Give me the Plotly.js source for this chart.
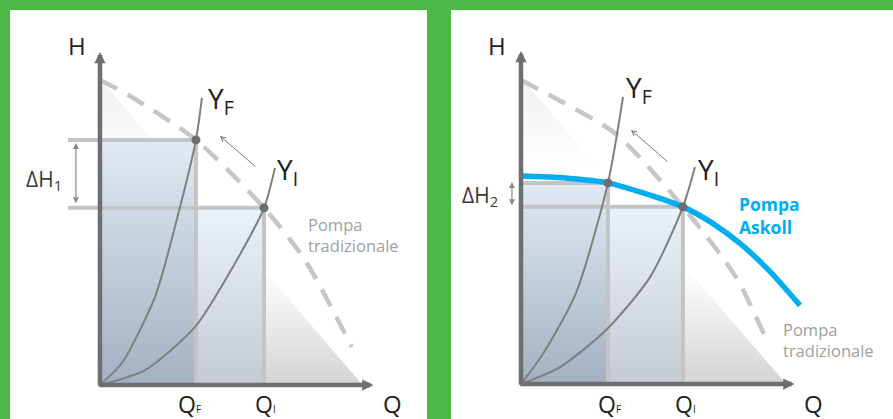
<!DOCTYPE html>
<html>
<head>
<meta charset="utf-8">
<script src="https://cdn.plot.ly/plotly-3.0.1.min.js"></script>
<style>
  html, body { margin: 0; padding: 0; background: #4cb848; }
  #chart { width: 893px; height: 419px; }
</style>
</head>
<body>
<div id="chart"></div>
<script>
// Q = flow, H = head, both in arbitrary units (axes run 0..100)

// left panel: traditional pump only
const tradQ1 = [0, 11, 35.1, 60, 75, 92.1];
const tradH1 = [91.6, 86.8, 73.6, 53.2, 37.5, 11.4];
const yfQ1 = [0, 8, 20.1, 29.3, 35.1, 37.3];
const yfH1 = [0, 6.6, 26.4, 53.5, 73.6, 86.2];
const yiQ1 = [0, 16.5, 34.7, 49.4, 60, 64];
const yiH1 = [0, 4.5, 17.4, 36.6, 53.2, 65.2];
const workQ1 = [35.1, 60];     // Q_F, Q_I
const workH1 = [73.6, 53.2];   // H_F, H_I
const wedgeQ1 = [0, 96, 0];
const wedgeH1 = [0, 0, 92];

// right panel: Askoll pump
const tradQ2 = [0, 11.7, 34.7, 59.2, 78.6, 90.3];
const tradH2 = [91.3, 86.2, 75.1, 53.2, 32.1, 12.3];
const askQ2 = [0, 16, 31.8, 59.2, 69.8, 80.4, 91, 102];
const askH2 = [62.5, 61.9, 60.4, 53.2, 48.4, 42, 33.8, 23.6];
const yfQ2 = [0, 8, 20.1, 31.8, 37.3];
const yfH2 = [0, 9, 27.3, 60.4, 86.2];
const yiQ2 = [0, 14.3, 31.1, 47.2, 59.2, 63.6];
const yiH2 = [0, 5.1, 16.2, 32.1, 53.2, 65.2];
const workQ2 = [31.8, 59.2];
const workH2 = [60.4, 53.2];
const wedgeQ2 = [0, 97, 0];
const wedgeH2 = [0, 0, 92];

const axisMax = 100;

const AXIS = '#6d6e71';
const GUIDE = '#c4c4c4';
const CURVE = '#7f7f7f';
const DASH = '#c6c6c6';
const BLUE = '#00aeef';
const TEXT = '#231f20';
const GREY_TEXT = '#9d9fa2';
const FONT = "'Open Sans', sans-serif";

function curve(q, h, xa, ya, color, width, dash) {
  return {
    x: q, y: h, xaxis: xa, yaxis: ya, type: 'scatter', mode: 'lines', hoverinfo: 'skip',
    line: { color: color, width: width, dash: dash || 'solid', shape: 'spline', smoothing: 0.7 }
  };
}

function patch(q, h, xa, ya, type, scale) {
  return {
    x: q, y: h, xaxis: xa, yaxis: ya, type: 'scatter', mode: 'none', fill: 'toself',
    hoverinfo: 'skip', fillgradient: { type: type, colorscale: scale }
  };
}

function panelTraces(xa, ya, d) {
  const [qF, qI] = d.workQ;
  const [hF, hI] = d.workH;
  const out = [
    patch(d.wedgeQ, d.wedgeH, xa, ya, 'vertical',
      [[0, '#d3d3d3'], [0.38, '#ffffff'], [0.7, '#ffffff'], [1, '#f0f0f0']]),
    patch([0, qF, qF, 0], [0, 0, hF, hF], xa, ya, 'vertical', [[0, '#a2b1c2'], [1, '#e1eaf4']]),
    patch([qF, qI, qI, qF], [0, 0, hI, hI], xa, ya, 'vertical', [[0, '#c5cbd4'], [1, '#eaf2fb']]),
    {
      x: [d.guideStart, qF, qF, null, d.guideStart, qI, qI],
      y: [hF, hF, 0, null, hI, hI, 0],
      xaxis: xa, yaxis: ya, type: 'scatter', mode: 'lines', hoverinfo: 'skip',
      line: { color: GUIDE, width: 4 }
    },
    curve(d.tradQ, d.tradH, xa, ya, DASH, 4.5, '19px,12px'),
    curve(d.yfQ, d.yfH, xa, ya, CURVE, 2),
    curve(d.yiQ, d.yiH, xa, ya, CURVE, 2)
  ];
  if (d.askQ) out.push(curve(d.askQ, d.askH, xa, ya, BLUE, 5.5));
  out.push({
    x: d.workQ, y: d.workH, xaxis: xa, yaxis: ya, type: 'scatter', mode: 'markers',
    hoverinfo: 'skip', marker: { color: AXIS, size: 9 }
  });
  return out;
}

function arrow(xa, ya, x0, y0, x1, y1, opts) {
  return Object.assign({
    xref: xa, yref: ya, axref: xa, ayref: ya, x: x1, y: y1, ax: x0, ay: y0,
    text: '', showarrow: true, standoff: 0, startstandoff: 0
  }, opts);
}

function label(xa, ya, x, y, text, size, opts) {
  return Object.assign({
    xref: xa, yref: ya, x: x, y: y, text: text, showarrow: false,
    xanchor: 'center', yanchor: 'middle', borderpad: 0,
    font: { family: FONT, size: size, color: TEXT }
  }, opts);
}

function axes(xa, ya) {
  const style = { arrowhead: 2, arrowsize: 0.5, arrowwidth: 4.5, arrowcolor: AXIS };
  return [
    arrow(xa, ya, 0, -0.7, 0, axisMax, style),
    arrow(xa, ya, -0.8, 0, axisMax, 0, style)
  ];
}

const traces = [].concat(
  panelTraces('x', 'y', {
    tradQ: tradQ1, tradH: tradH1, yfQ: yfQ1, yfH: yfH1, yiQ: yiQ1, yiH: yiH1,
    workQ: workQ1, workH: workH1, wedgeQ: wedgeQ1, wedgeH: wedgeH1, guideStart: -11.7
  }),
  panelTraces('x2', 'y2', {
    tradQ: tradQ2, tradH: tradH2, yfQ: yfQ2, yfH: yfH2, yiQ: yiQ2, yiH: yiH2,
    askQ: askQ2, askH: askH2,
    workQ: workQ2, workH: workH2, wedgeQ: wedgeQ2, wedgeH: wedgeH2, guideStart: 0
  })
);

const thin = { arrowhead: 2, arrowsize: 1, arrowwidth: 1.2, arrowcolor: '#8a8a8a', arrowside: 'end+start' };
const shift = { arrowhead: 5, arrowsize: 1, arrowwidth: 1, arrowcolor: '#7a7a7a' };
const greyText = { xanchor: 'left', align: 'left', font: { family: FONT, size: 16.5, color: GREY_TEXT } };
const blueText = { xanchor: 'left', align: 'left', font: { family: FONT, size: 17.5, color: BLUE, weight: 700 } };
const deltaText = { xanchor: 'left', font: { family: FONT, size: 21, color: '#3a3a3a' } };

const annotations = [].concat(
  axes('x', 'y'),
  axes('x2', 'y2'),
  [
    // left panel
    label('x', 'y', -8.4, 102.1, 'H', 24),
    label('x', 'y', 106.8, -5.7, 'Q', 24),
    label('x', 'y', 39.1, 85.5, 'Y<sub>F</sub>', 28, { xanchor: 'left' }),
    label('x', 'y', 64.4, 64.4, 'Y<sub>I</sub>', 28, { xanchor: 'left' }),
    label('x', 'y', 32.7, -5.7, "Q<span style='font-size:10px'>F</span>", 23),
    label('x', 'y', 60.5, -5.7, "Q<span style='font-size:10px'>I</span>", 23),
    label('x', 'y', -27.4, 61.5, 'ΔH<sub>1</sub>', 21, deltaText),
    label('x', 'y', 75.7, 45.1, 'Pompa<br>tradizionale', 16.5, greyText),
    arrow('x', 'y', -8.8, 54.1, -8.8, 72.7, thin),
    arrow('x', 'y', 57.4, 65.2, 43.9, 74.8, shift),
    // right panel
    label('x2', 'y2', -8.8, 101.8, 'H', 24),
    label('x2', 'y2', 106.8, -6, 'Q', 24),
    label('x2', 'y2', 38.0, 88.5, 'Y<sub>F</sub>', 28, { xanchor: 'left' }),
    label('x2', 'y2', 64.4, 64.1, 'Y<sub>I</sub>', 28, { xanchor: 'left' }),
    label('x2', 'y2', 32.2, -6, "Q<span style='font-size:10px'>F</span>", 23),
    label('x2', 'y2', 60.3, -6, "Q<span style='font-size:10px'>I</span>", 23),
    label('x2', 'y2', -21.9, 56.4, 'ΔH<sub>2</sub>', 21, deltaText),
    label('x2', 'y2', 79.3, 50.5, '<b>Pompa<br>Askoll</b>', 17.5, blueText),
    label('x2', 'y2', 95.4, 13.1, 'Pompa<br>tradizionale', 16.5, greyText),
    arrow('x2', 'y2', -3.3, 53.2, -3.3, 60.7, thin),
    arrow('x2', 'y2', 54.1, 66.4, 40.2, 76.3, shift)
  ]
);

const layout = {
  width: 893,
  height: 419,
  margin: { l: 0, r: 0, t: 0, b: 0 },
  paper_bgcolor: '#4cb848',
  plot_bgcolor: 'rgba(0,0,0,0)',
  showlegend: false,
  font: { family: FONT },
  xaxis: { domain: [10 / 893, 427 / 893], range: [-32.9, 119.6], visible: false, anchor: 'y' },
  yaxis: { domain: [0, 1], range: [-10.21, 115.62], visible: false, anchor: 'x' },
  xaxis2: { domain: [451 / 893, 1], range: [-25.59, 136.01], visible: false, anchor: 'y2' },
  yaxis2: { domain: [0, 1], range: [-10.51, 115.32], visible: false, anchor: 'x2' },
  shapes: [
    { type: 'rect', xref: 'paper', yref: 'paper', x0: 10 / 893, x1: 427 / 893, y0: 0, y1: 409 / 419,
      fillcolor: '#ffffff', line: { width: 0 }, layer: 'below' },
    { type: 'rect', xref: 'paper', yref: 'paper', x0: 451 / 893, x1: 1, y0: 0, y1: 409 / 419,
      fillcolor: '#ffffff', line: { width: 0 }, layer: 'below' }
  ],
  annotations: annotations
};

Plotly.newPlot('chart', traces, layout, { staticPlot: true, displayModeBar: false });
</script>
</body>
</html>
